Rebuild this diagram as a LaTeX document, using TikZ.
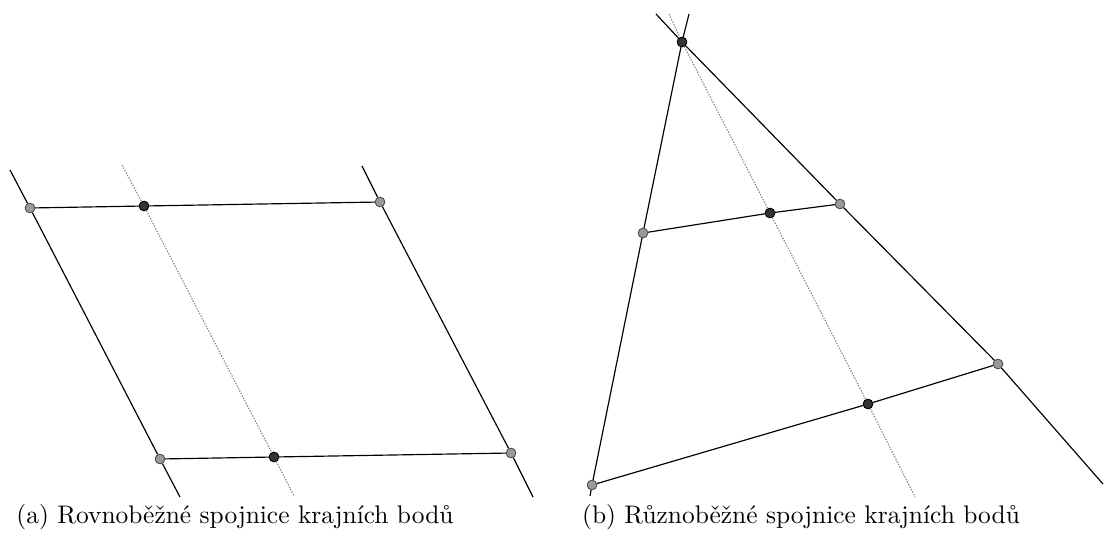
\documentclass[tikz,border=0pt]{standalone}
\usepackage{fontspec}
\usepackage{tikz}

\tikzset{
  krajni/.style={circle, draw=black!70, fill=black!40, inner sep=0pt, minimum size=0.145cm, line width=0.3pt},
  stredni/.style={circle, draw=black, fill=black!80, inner sep=0pt, minimum size=0.145cm, line width=0.3pt},
  primka/.style={black, line width=0.5pt},
  osa/.style={black!50, line width=0.45pt, dash pattern=on 0.6pt off 0.6pt},
  popisek/.style={font=\fontsize{10.85}{13}\selectfont}
}

\begin{document}
\begin{tikzpicture}[x=0.015cm, y=-0.015cm]
\useasboundingbox (0,0) rectangle (1114,539);
% (a) rovnobezne
\coordinate (a1) at (10,170);
\coordinate (a2) at (180,497);
\coordinate (b1) at (362,166);
\coordinate (b2) at (533,497);
\coordinate (o1) at (122,165);
\coordinate (o2) at (294,496);
\node[krajni] (A) at (30,208) {};
\node[krajni] (B) at (380,202) {};
\node[krajni] (C) at (160,459) {};
\node[krajni] (D) at (511,453) {};
\node[stredni] (M) at (144,206) {};
\node[stredni] (N) at (274,457) {};
\draw[osa] (o1) -- (M) -- (N) -- (o2);
\draw[primka] (a1) -- (A) -- (C) -- (a2);
\draw[primka] (b1) -- (B) -- (D) -- (b2);
\draw[primka] (A) -- (M) -- (B);
\draw[primka] (C) -- (N) -- (D);
\node[krajni] at (A) {};
\node[krajni] at (B) {};
\node[krajni] at (C) {};
\node[krajni] at (D) {};
\node[stredni] at (M) {};
\node[stredni] at (N) {};
\node[popisek] (capa) at (235,517) {(a) Rovnoběžné spojnice krajních bodů};

% (b) ruznobezne
\coordinate (c1) at (689,14);
\coordinate (c2) at (590,496);
\coordinate (d1) at (656,14);
\coordinate (d2) at (1103,484);
\coordinate (p1) at (669,14);
\coordinate (p2) at (915,497);
\node[stredni] (P) at (682,42) {};
\node[krajni] (E) at (643,233) {};
\node[krajni] (F) at (840,204) {};
\node[krajni] (G) at (592,485) {};
\node[krajni] (H) at (998,364) {};
\node[stredni] (S) at (770,213) {};
\node[stredni] (T) at (868,404) {};
\draw[osa] (p1) -- (P) -- (S) -- (T) -- (p2);
\draw[primka] (c1) -- (P) -- (E) -- (G) -- (c2);
\draw[primka] (d1) -- (P) -- (F) -- (H) -- (d2);
\draw[primka] (E) -- (S) -- (F);
\draw[primka] (G) -- (T) -- (H);
\node[stredni] at (P) {};
\node[krajni] at (E) {};
\node[krajni] at (F) {};
\node[krajni] at (G) {};
\node[krajni] at (H) {};
\node[stredni] at (S) {};
\node[stredni] at (T) {};
\node[popisek] (capb) at (801,517) {(b) Různoběžné spojnice krajních bodů};
\end{tikzpicture}
\end{document}
